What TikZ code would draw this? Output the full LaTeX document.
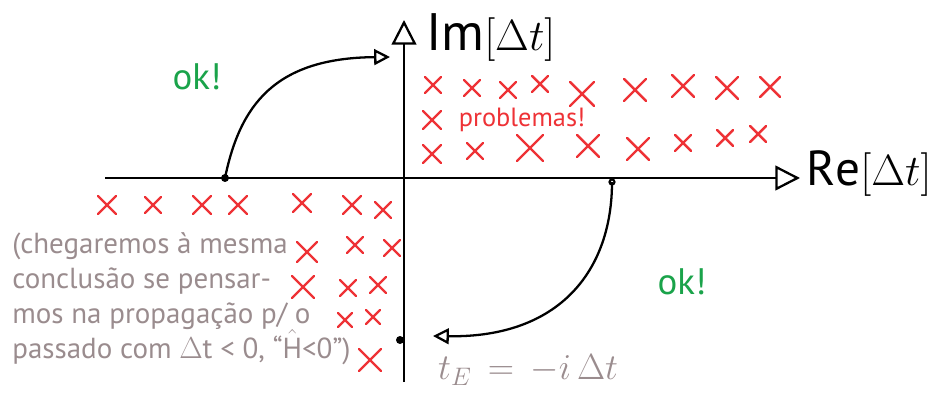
\documentclass[tikz,border=0pt]{standalone}
\usepackage{fontspec}
\setmainfont{PT Sans}
\usepackage{amsmath}
\usetikzlibrary{arrows.meta, positioning, calc}
\definecolor{okgreen}{HTML}{1AA34A}
\definecolor{badred}{HTML}{EE3236}
\definecolor{notegray}{HTML}{9A8C8E}

\tikzset{
    axis/.style={line width=1.3pt, -{Triangle[open, length=14pt, width=14pt, line width=1.3pt]}},
    bad/.style={badred, line width=1.4pt, line cap=round},
    hand/.style={line width=1.3pt, -{Triangle[open, length=9pt, width=9pt, line width=1.3pt]}},
    okay/.style={text=okgreen, font=\fontsize{21}{24}\selectfont},
}
\newcommand{\redx}[3]{% x, y, half size
    \draw[bad] (#1-#3, #2-#3) -- (#1+#3, #2+#3);
    \draw[bad] (#1-#3, #2+#3) -- (#1+#3, #2-#3);
}

\begin{document}
\begin{tikzpicture}[x=0.02cm, y=-0.02cm]
    \useasboundingbox (0, 0) rectangle (939, 405);

    % axes
    \coordinate (O) at (404, 178);
    \coordinate (ReStart) at (105, 178);
    \coordinate (ReEnd) at (800, 178);
    \coordinate (ImStart) at (404, 382);
    \coordinate (ImEnd) at (404, 20);
    \draw[axis] (ReStart) -- (ReEnd);
    \draw[axis] (ImStart) -- (ImEnd);
    \node[anchor=west, font=\fontsize{28}{30}\selectfont] (relabel) at (800, 174) {$\mathrm{Re}[\Delta t]$};
    \node[anchor=west, font=\fontsize{30}{32}\selectfont] (imlabel) at (420, 38) {$\mathrm{Im}[\Delta t]$};

    % points and rotation arrows
    \coordinate (Pleft) at (225, 178);
    \coordinate (Pup) at (390, 57);
    \coordinate (Pright) at (612, 182);
    \coordinate (Pdown) at (433, 336);
    \coordinate (Pim) at (400, 340);
    \fill (Pleft) circle (4);
    \draw[line width=1.2pt] (Pright) circle (2.5);
    \fill (Pim) circle (4);
    \draw[hand] (Pleft) .. controls (240, 105) and (275, 58) .. (Pup);
    \draw[hand] (Pright) .. controls (612, 270) and (560, 338) .. (Pdown);

    \node[okay] (okleft) at (197, 77) {ok!};
    \node[okay] (okright) at (682, 282) {ok!};
    \node[text=badred, font=\fontsize{15}{17}\selectfont] (prob) at (522, 120) {problemas!};

    % upper right
    \foreach \x/\y/\s in {433/85/8, 472/88/8, 508/90/8, 540/84/8, 582/94/12, 635/90/11,
        683/86/11, 727/88/11, 770/87/10, 432/120/9,
        432/154/9, 475/151/8, 530/148/13, 588/146/11, 638/149/11, 683/143/8, 725/138/8, 758/134/8}
        {\redx{\x}{\y}{\s}}
    % lower left
    \foreach \x/\y/\s in {107/205/9, 153/205/8, 202/205/9, 238/205/9, 302/203/9, 352/205/9, 383/210/8,
        307/252/10, 355/245/8, 392/248/8, 303/287/11, 348/288/8, 378/285/8,
        345/320/7, 373/317/7, 370/360/11}
        {\redx{\x}{\y}{\s}}

    \node[anchor=north west, text=notegray, align=left, inner sep=0pt,
        font=\fontsize{16.5}{19.9}\selectfont] (note) at (12, 232)
        {(chegaremos à mesma\\conclusão se pensar-\\mos na propagação p/ o\\passado com $\Delta$t < 0, “$\hat{\text{H}}$<0”)};

    \node[anchor=west, text=notegray, font=\fontsize{22}{24}\selectfont] (teuclid) at (432, 370) {$t_E\,=\,-i\,\Delta t$};
\end{tikzpicture}
\end{document}
